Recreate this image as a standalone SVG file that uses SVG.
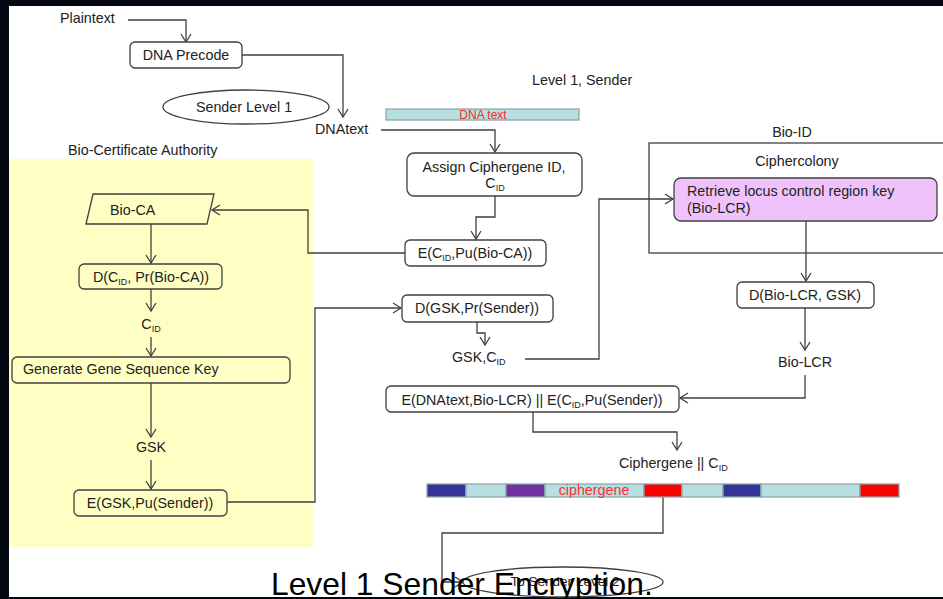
<svg xmlns="http://www.w3.org/2000/svg" width="943" height="599" viewBox="0 0 943 599">
  <style>
    text { font-family: "Liberation Sans", Arial, sans-serif; font-size: 14.3px; fill: #222; }
    .mid { text-anchor: middle; }
    .sub { font-size: 9px; }
    .box { fill: #fff; stroke: #404040; stroke-width: 1.3; }
    .ybox { fill: #ffffc4; stroke: #404040; stroke-width: 1.3; }
    .wire { fill: none; stroke: #404040; stroke-width: 1.3; }
    .arr { marker-end: url(#arrow); }
    .seg { stroke: #8fa8ab; stroke-width: 1.3; }
  </style>
  <defs>
    <marker id="arrow" markerWidth="12" markerHeight="12" refX="9" refY="6" orient="auto" markerUnits="userSpaceOnUse">
      <path d="M1,1 L9,6 L1,11" fill="none" stroke="#404040" stroke-width="1.3"/>
    </marker>
  </defs>

  <!-- page and frame -->
  <rect x="0" y="0" width="943" height="599" fill="#ffffff"/>
  <rect x="0" y="0" width="943" height="6" fill="#020712"/>
  <rect x="0" y="0" width="9" height="599" fill="#020712"/>
  <rect x="0" y="597" width="943" height="2" fill="#020712"/>

  <!-- Bio-Certificate Authority area -->
  <rect x="9" y="159" width="304" height="388" fill="#ffffc4"/>
  <text x="68" y="155">Bio-Certificate Authority</text>

  <!-- Bio-ID frame -->
  <g id="bio-id">
    <rect x="649" y="143" width="320" height="110" fill="none" stroke="#404040" stroke-width="1.3"/>
    <text class="mid" x="792" y="137">Bio-ID</text>
    <text class="mid" x="797" y="166">Ciphercolony</text>
  </g>

  <text x="532" y="85">Level 1, Sender</text>

  <!-- connectors -->
  <g id="connectors">
    <path class="wire arr" d="M128,20 H186 V42"/>
    <path class="wire arr" d="M242,55 H343 V117"/>
    <path class="wire arr" d="M381,130 H495 V152"/>
    <path class="wire arr" d="M495,196 V217 H476 V239"/>
    <path class="wire arr" d="M405,253 H308 V210 H212"/>
    <path class="wire arr" d="M151,224 V263"/>
    <path class="wire arr" d="M151,289 V311"/>
    <path class="wire arr" d="M151,337 V356"/>
    <path class="wire arr" d="M151,383 V437"/>
    <path class="wire arr" d="M151,460 V489"/>
    <path class="wire arr" d="M227,502 H315 V308 H401"/>
    <path class="wire arr" d="M477,322 V333 H485 V345"/>
    <path class="wire arr" d="M525,359 H599 V199 H673"/>
    <path class="wire arr" d="M806,221 V281"/>
    <path class="wire arr" d="M805,308 V350"/>
    <path class="wire arr" d="M805,375 V398 H680"/>
    <path class="wire arr" d="M533,412 V432 H677 V450"/>
    <path class="wire arr" d="M663,497 V533 H442 V582 H463"/>
  </g>

  <!-- sender nodes -->
  <g id="plaintext"><text x="60" y="23">Plaintext</text></g>
  <g id="dna-precode">
    <rect class="box" x="130" y="42" width="112" height="26" rx="5"/>
    <text class="mid" x="186" y="60">DNA Precode</text>
  </g>
  <g id="sender-level-1">
    <ellipse cx="246" cy="107" rx="83" ry="17" fill="#fff" stroke="#404040" stroke-width="1.3"/>
    <text class="mid" x="244" y="112">Sender Level 1</text>
  </g>
  <g id="dnatext"><text x="315" y="134">DNAtext</text></g>
  <g id="dna-text-bar">
    <rect x="386" y="109" width="193" height="11" fill="#b7dfe2" stroke="#8fa8ab" stroke-width="1.3"/>
    <text class="mid" x="483" y="118.5" style="font-size:12px;fill:#ff2a2a">DNA text</text>
  </g>
  <g id="assign-cid">
    <rect class="box" x="407" y="153" width="175" height="43" rx="7"/>
    <text class="mid" x="494" y="172">Assign Ciphergene ID,</text>
    <text class="mid" x="495" y="188">C<tspan class="sub" dy="3">ID</tspan></text>
  </g>
  <g id="enc-cid-bioca">
    <rect class="box" x="405" y="240" width="141" height="26" rx="5"/>
    <text class="mid" x="475" y="258">E(C<tspan class="sub" dy="3">ID</tspan><tspan dy="-3">,Pu(Bio-CA))</tspan></text>
  </g>

  <!-- certificate authority nodes -->
  <g id="bio-ca">
    <polygon class="ybox" points="93,194 214,194 207,224 86,224"/>
    <text x="110" y="215">Bio-CA</text>
  </g>
  <g id="dec-cid">
    <rect class="ybox" x="79" y="264" width="143" height="25" rx="5"/>
    <text class="mid" x="151" y="282">D(C<tspan class="sub" dy="3">ID</tspan><tspan dy="-3">, Pr(Bio-CA))</tspan></text>
  </g>
  <g id="cid-label"><text class="mid" x="151" y="329">C<tspan class="sub" dy="3">ID</tspan></text></g>
  <g id="generate-gsk">
    <rect class="ybox" x="12" y="357" width="278" height="26" rx="5"/>
    <text x="23" y="374">Generate Gene Sequence Key</text>
  </g>
  <g id="gsk-label"><text class="mid" x="151" y="452">GSK</text></g>
  <g id="enc-gsk">
    <rect class="ybox" x="74" y="490" width="153" height="26" rx="5"/>
    <text class="mid" x="150" y="508">E(GSK,Pu(Sender))</text>
  </g>

  <!-- sender decryption and ciphercolony -->
  <g id="dec-gsk">
    <rect class="box" x="402" y="295" width="151" height="27" rx="5"/>
    <text class="mid" x="477" y="313">D(GSK,Pr(Sender))</text>
  </g>
  <g id="gsk-cid"><text x="452" y="362">GSK,C<tspan class="sub" dy="3">ID</tspan></text></g>
  <g id="retrieve-lcr">
    <rect x="674" y="178" width="263" height="43" rx="7" fill="#f0c2fb" stroke="#404040" stroke-width="1.3"/>
    <text x="687" y="196">Retrieve locus control region key</text>
    <text x="687" y="213">(Bio-LCR)</text>
  </g>
  <g id="dec-lcr">
    <rect class="box" x="737" y="282" width="137" height="26" rx="5"/>
    <text class="mid" x="805" y="300">D(Bio-LCR, GSK)</text>
  </g>
  <g id="bio-lcr"><text class="mid" x="805" y="367">Bio-LCR</text></g>
  <g id="enc-ciphergene">
    <rect class="box" x="386" y="386" width="293" height="26" rx="5"/>
    <text class="mid" x="532" y="405">E(DNAtext,Bio-LCR) || E(C<tspan class="sub" dy="3">ID</tspan><tspan dy="-3">,Pu(Sender))</tspan></text>
  </g>
  <g id="ciphergene-label"><text x="619" y="468">Ciphergene || C<tspan class="sub" dy="3">ID</tspan></text></g>

  <!-- ciphergene strand -->
  <g id="ciphergene-bar">
    <rect class="seg" x="427" y="484" width="39" height="13" fill="#333399"/>
    <rect class="seg" x="466" y="484" width="40" height="13" fill="#b7dfe2"/>
    <rect class="seg" x="506" y="484" width="39" height="13" fill="#7030a0"/>
    <rect class="seg" x="545" y="484" width="99" height="13" fill="#b7dfe2"/>
    <rect class="seg" x="644" y="484" width="38" height="13" fill="#ff0000"/>
    <rect class="seg" x="682" y="484" width="41" height="13" fill="#b7dfe2"/>
    <rect class="seg" x="723" y="484" width="38" height="13" fill="#333399"/>
    <rect class="seg" x="761" y="484" width="99" height="13" fill="#b7dfe2"/>
    <rect class="seg" x="860" y="484" width="39" height="13" fill="#ff0000"/>
    <text class="mid" x="594" y="495" style="fill:#ff3030">ciphergene</text>
  </g>

  <g id="to-sender-level-2">
    <ellipse cx="563" cy="582" rx="100" ry="15" fill="#fff" stroke="#404040" stroke-width="1.3"/>
    <text class="mid" x="565" y="586" style="font-size:13.5px">To Sender Level 2</text>
  </g>

  <text x="271" y="595" style="font-size:31.8px;fill:#000">Level 1 Sender Encryption.</text>
</svg>
